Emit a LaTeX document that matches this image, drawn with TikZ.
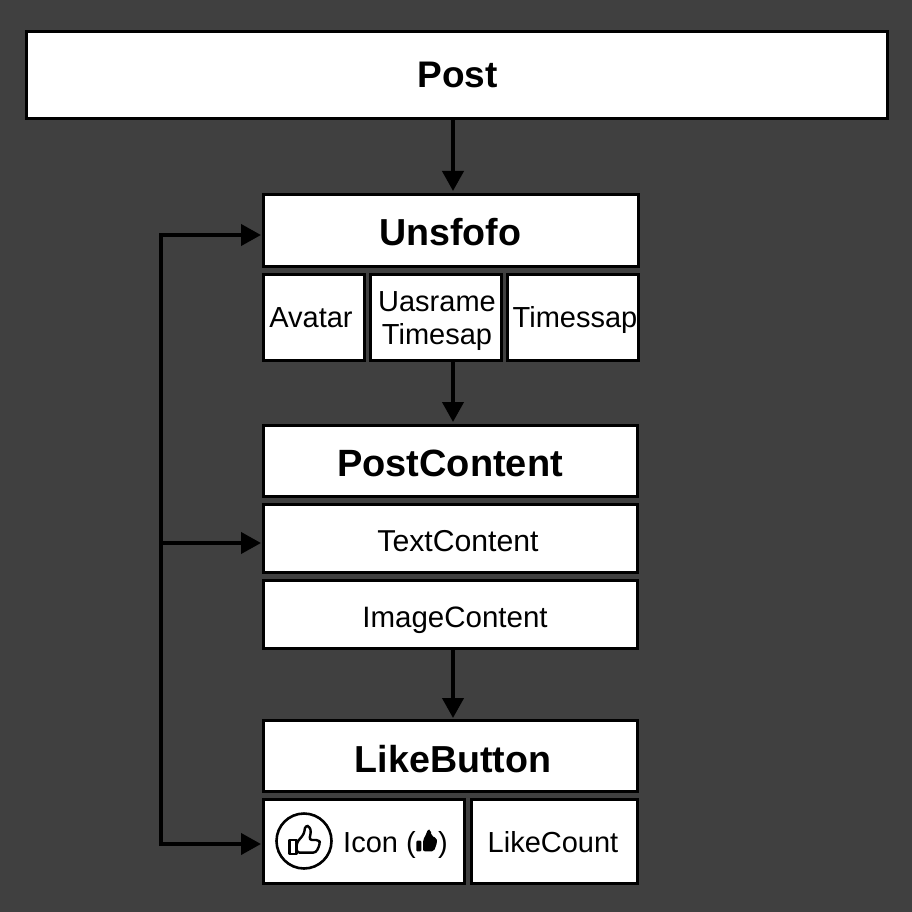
\documentclass[tikz,border=0pt]{standalone}
\usepackage{fontspec}
\setmainfont{Liberation Sans}
\usetikzlibrary{arrows.meta}
\tikzset{
  box/.style={draw=black,line width=2.6pt,fill=white,inner sep=0pt,align=center},
  label/.style={font=\fontsize{29}{33}\selectfont,text=black,align=center},
  title/.style={font=\fontsize{37.6}{40}\selectfont\bfseries,text=black},
  link/.style={draw=black,line width=4pt,-{Triangle[length=20pt,width=21pt]},shorten >=1pt},
  bus/.style={draw=black,line width=4pt,line cap=rect}
}
\newcommand{\bx}[5]{% name, x0, x1, y0, y1 (outer edges)
  \node[box,minimum width=#3pt-#2pt-2.6pt,minimum height=#5pt-#4pt-2.6pt] (#1) at ({(#2+#3)/2},{(#4+#5)/2}) {};
}
\begin{document}
\begin{tikzpicture}[x=1pt,y=-1pt]
\useasboundingbox (0,0) rectangle (912,912);
\fill[fill=black!75!white] (0,0) rectangle (912,912);
\bx{post}{25}{889}{30}{120}
\bx{unsf}{262}{640}{193}{268}
\bx{avatar}{262}{366}{273}{362}
\bx{uname}{369}{503}{273}{362}
\bx{tstamp}{506}{640}{273}{362}
\bx{pcontent}{262}{639}{424}{498}
\bx{tcontent}{262}{639}{503}{574}
\bx{icontent}{262}{639}{579}{650}
\bx{like}{262}{639}{719}{793}
\bx{icon}{262}{466}{798}{885}
\bx{lcount}{470}{639}{798}{885}
% texts
\node[title,font=\fontsize{37}{40}\selectfont\bfseries] (tpost) at (457.5,75) {Post};
\node[title] (tunsf) at (450,232) {Unsfofo};
\node[label] (tav) at (311,318) {Avatar};
\node[label] (tun) at (437,321) {Uasrame\\Timesap};
\node[label] (tts) at (575,320) {Timessap};
\node[title,font=\fontsize{38}{40}\selectfont\bfseries] (tpc) at (450,463) {PostContent};
\node[label,font=\fontsize{30.2}{33}\selectfont] (ttc) at (458,541) {TextContent};
\node[label,font=\fontsize{29.5}{33}\selectfont] (tic) at (455,620) {ImageContent};
\node[title] (tlb) at (453,759) {LikeButton};
\node[label,anchor=base west,inner sep=0pt] (tic2) at (343,852) {Icon (};
\node[label,anchor=base west,inner sep=0pt] (tic3) at (438,852) {)};
\node[label] (tlc) at (553,842) {LikeCount};
% connectors
\coordinate (ax) at (453,0);
\coordinate (b1) at (161,235);
\coordinate (b2) at (161,543);
\coordinate (b3) at (161,844);
\draw[link] (post.south -| ax) -- ([yshift=1pt]unsf.north -| ax);
\draw[link] (uname.south -| ax) -- ([yshift=1pt]pcontent.north -| ax);
\draw[link] (icontent.south -| ax) -- (like.north -| ax);
\draw[bus] (b1) -- (b3);
\draw[link] (b1) -- (unsf.west |- b1);
\draw[link] (b2) -- (tcontent.west |- b2);
\draw[link] (b3) -- (icon.west |- b3);
% icon circle
\draw[line width=2.6pt] (304,841) circle (27.5);
\begin{scope}[shift={(260,790)},scale=1/3]
  \draw[line width=2.4pt,line join=round] (88,150) rectangle (110,192);
  \draw[line width=2.4pt,line join=round,rounded corners=3pt,fill=white] (110,158) -- (132,132) -- (136,106) -- (150,110) -- (153,128) -- (147,150) -- (178,150) -- (180,162) -- (168,188) -- (110,188) -- cycle;
  \fill[rounded corners=1pt] (469,152) rectangle (484,184);
  \fill[rounded corners=2pt] (489,150) -- (500,130) -- (503,118) -- (513,120) -- (514,138) -- (530,144) -- (532,155) -- (522,184) -- (489,184) -- cycle;
\end{scope}
\end{tikzpicture}
\end{document}
